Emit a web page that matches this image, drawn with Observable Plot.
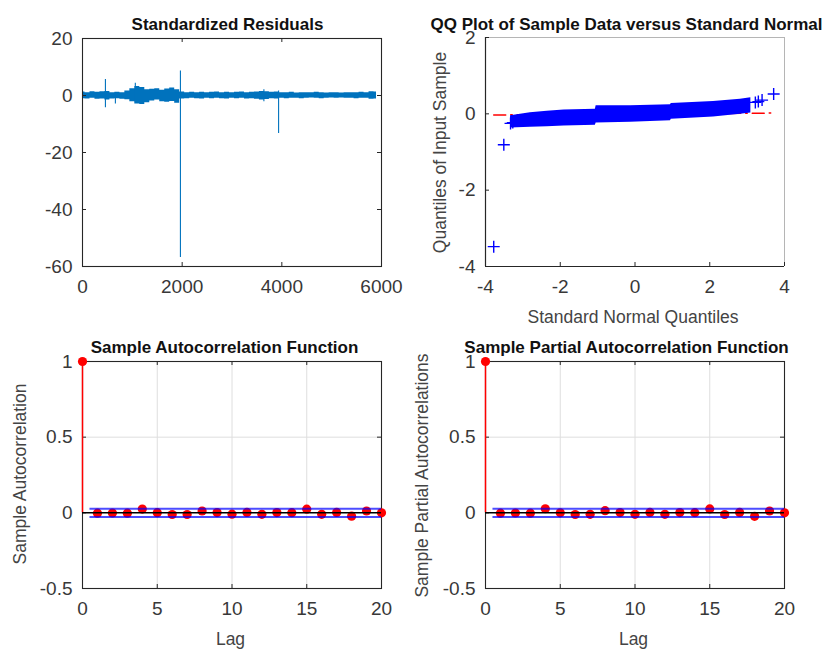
<!DOCTYPE html>
<html><head><meta charset="utf-8">
<script src="https://cdn.jsdelivr.net/npm/d3@7"></script>
<script src="https://cdn.jsdelivr.net/npm/@observablehq/plot@0.6"></script>
<style>
html,body{margin:0;padding:0;background:#fff;}
#root{position:relative;width:831px;height:649px;overflow:hidden;background:#fff;}
#root svg{position:absolute;}
</style></head><body><div id="root"></div>
<script>
const residIndex = [0,100,200,300,400,500,600,700,800,900,1000,1100,1200,1300,1400,1500,1600,1700,1800,1900,2000,2100,2200,2300,2400,2500,2600,2700,2800,2900,3000,3100,3200,3300,3400,3500,3600,3700,3800,3900,4000,4100,4200,4300,4400,4500,4600,4700,4800,4900,5000,5100,5200,5300,5400,5500,5600,5700,5800,5900];
const residLow  = [-1.1,-1.2,-1.0,-1.3,-1.2,-1.6,-1.2,-1.1,-1.3,-1.5,-2.2,-3.0,-3.2,-2.5,-1.9,-1.6,-2.2,-2.4,-2.1,-2.7,-1.2,-1.1,-1.0,-1.1,-1.2,-1.0,-1.1,-1.0,-1.1,-1.2,-1.0,-1.1,-1.0,-1.2,-1.1,-1.3,-1.6,-1.4,-1.1,-1.2,-1.0,-1.1,-1.0,-1.0,-1.1,-1.0,-0.9,-1.0,-1.1,-1.0,-0.9,-1.0,-0.9,-1.0,-1.0,-1.1,-1.0,-1.0,-1.3,-1.2];
const residHigh = [1.2,1.0,1.3,1.1,1.3,1.4,1.0,1.1,1.0,1.6,2.4,3.2,2.8,2.0,2.2,2.4,1.8,2.3,2.6,2.0,1.2,1.0,1.1,1.0,1.1,1.0,1.1,1.2,1.0,1.1,1.0,1.1,1.2,1.0,1.1,1.2,1.4,1.3,1.1,1.2,1.0,1.0,1.1,0.9,1.0,1.0,1.0,1.1,1.0,0.9,1.0,1.0,0.9,1.0,1.0,1.0,1.1,1.0,1.3,1.2];
const spikeIndex = [460, 660, 1060, 1965, 3640, 3935];
const spikeLow   = [-4.3, -3.0, -2.5, -56.8, -2.2, -13.3];
const spikeHigh  = [5.6, 1.0, 4.3, 8.6, 2.0, 1.6];
const residXTicks = [0, 2000, 4000, 6000];
const residYTicks = [-60, -40, -20, 0, 20];

// ---------- QQ plot
const qqBandX    = [-3.33, -2.8, -2.35, -1.9, -1.06, -1.04, -0.12, 0.95, 0.97, 2.1, 2.82, 3.1];
const qqBandLow  = [-0.37, -0.35, -0.34, -0.32, -0.30, -0.24, -0.22, -0.18, -0.14, -0.08, -0.01, 0.02];
const qqBandHigh = [-0.05, 0.03, 0.07, 0.10, 0.12, 0.21, 0.21, 0.24, 0.27, 0.32, 0.38, 0.42];
const qqTailX = [-3.78, -3.51, -3.33, -3.27, 3.22, 3.30, 3.40, 3.71];
const qqTailY = [-3.48, -0.81, -0.25, -0.23, 0.30, 0.32, 0.36, 0.52];
const qqRefX = [-3.78, 3.76];
const qqRefY = [-0.03, 0.02];
const qqXTicks = [-4, -2, 0, 2, 4];
const qqYTicks = [-4, -2, 0, 2];

// ---------- ACF / PACF
const lags = [0,1,2,3,4,5,6,7,8,9,10,11,12,13,14,15,16,17,18,19,20];
const acfValues  = [1, -0.002, -0.001, -0.002, 0.025, 0.001, -0.011, -0.011, 0.012, 0.002, -0.009, 0.003, -0.010, 0.002, 0.001, 0.024, -0.010, 0.003, -0.022, 0.012, 0.0];
const pacfValues = [1, -0.002, -0.001, -0.002, 0.027, 0.000, -0.011, -0.010, 0.014, 0.002, -0.010, 0.003, -0.010, 0.002, 0.001, 0.026, -0.011, 0.003, -0.023, 0.012, 0.0];
const confBound = [0.027];
const boundLagRange = [0.5, 20];
const lagTicks = [0, 5, 10, 15, 20];
const corrTicks = [-0.5, 0, 0.5, 1];
const lagGrid = [5, 10, 15];
const corrGrid = [0.5];

// ---------- helpers
const root = document.getElementById("root");
const FONT = "'Liberation Sans', Arial, Helvetica, sans-serif";
const AX = "#262626";
const style = {fontFamily: FONT, fontSize: "19px", color: "#383838", background: "transparent", overflow: "visible"};
const fmt = d => String(d);
const plusSymbol = {draw(ctx, size) { const r = Math.sqrt(size / Math.PI); ctx.moveTo(-r, 0); ctx.lineTo(r, 0); ctx.moveTo(0, -r); ctx.lineTo(0, r); }};

function inwardTicks(xt, yt, fw, fh, sides) {
  const L = 4, m = [];
  if (sides.includes("b")) m.push(Plot.ruleX(xt, {x: d => d, insetTop: fh - L, stroke: AX}));
  if (sides.includes("t")) m.push(Plot.ruleX(xt, {x: d => d, insetBottom: fh - L, stroke: AX}));
  if (sides.includes("l")) m.push(Plot.ruleY(yt, {y: d => d, insetRight: fw - L, stroke: AX}));
  if (sides.includes("r")) m.push(Plot.ruleY(yt, {y: d => d, insetLeft: fw - L, stroke: AX}));
  return m;
}
function title(t, dx, dy) {
  return Plot.text([t], {text: d => d, frameAnchor: "top", textAnchor: "middle", dx, dy, lineAnchor: "bottom", fontWeight: "bold", fontSize: 17, fill: "#111"});
}
function xLabel(t, dx, dy) {
  return Plot.text([t], {text: d => d, frameAnchor: "bottom", textAnchor: "middle", dx, dy, lineAnchor: "top", fontSize: 17.5, fill: "#444"});
}
function yLabel(t, dx, dy) {
  return Plot.text([t], {text: d => d, frameAnchor: "left", textAnchor: "middle", dx, dy, rotate: -90, lineAnchor: "middle", fontSize: 17.5, fill: "#444"});
}
function place(svg, left, top) { svg.style.left = left + "px"; svg.style.top = top + "px"; root.appendChild(svg); }

// ---------- Panel 1: residuals
{
  const W = 415, H = 320, mL = 82, mR = 34, mT = 38, mB = 54;
  const resid = residIndex.map((x, i) => ({x, lo: residLow[i], hi: residHigh[i]}));
  const spikes = spikeIndex.map((x, i) => ({x, lo: spikeLow[i], hi: spikeHigh[i]}));
  const svg = Plot.plot({
    width: W, height: H, marginLeft: mL, marginRight: mR, marginTop: mT, marginBottom: mB,
    style, x: {domain: [0, 6000]}, y: {domain: [-60, 20]},
    marks: [
      Plot.areaY(resid, {x: "x", y1: "lo", y2: "hi", curve: "step", fill: "#0072BD"}),
      Plot.ruleX(spikes, {x: "x", y1: "lo", y2: "hi", stroke: "#0072BD", strokeWidth: 1.1}),
      Plot.frame({stroke: AX, strokeWidth: 1.1}),
      ...inwardTicks(residXTicks, residYTicks, W - mL - mR, H - mT - mB, "btlr"),
      Plot.axisX({ticks: residXTicks, tickFormat: fmt, tickSize: 0, tickPadding: 13, label: null}),
      Plot.axisY({ticks: residYTicks, tickFormat: fmt, tickSize: 0, tickPadding: 10, label: null}),
      title("Standardized Residuals", -4.5, -8.5)
    ]
  });
  place(svg, 0, 0);
}

// ---------- Panel 2: QQ plot
{
  const W = 416, H = 330, mL = 70, mR = 47, mT = 37, mB = 64;
  const band = qqBandX.map((x, i) => ({x, lo: qqBandLow[i], hi: qqBandHigh[i]}));
  const tails = qqTailX.map((x, i) => ({x, y: qqTailY[i]}));
  const ref = qqRefX.map((x, i) => ({x, y: qqRefY[i]}));
  const svg = Plot.plot({
    width: W, height: H, marginLeft: mL, marginRight: mR, marginTop: mT, marginBottom: mB,
    style, x: {domain: [-4, 4]}, y: {domain: [-4, 2]},
    marks: [
      Plot.ruleY([2], {stroke: "#b5b5b5"}),
      Plot.ruleX([4], {stroke: "#b5b5b5"}),
      Plot.line(ref, {x: "x", y: "y", stroke: "#ff0000", strokeWidth: 1.5, strokeDasharray: "12,5,1.5,5"}),
      Plot.areaY(band, {x: "x", y1: "lo", y2: "hi", fill: "#0000ff"}),
      Plot.dot(tails, {x: "x", y: "y", symbol: plusSymbol, r: 6, stroke: "#0000ff", fill: "none", strokeWidth: 1.4}),
      Plot.ruleX([-4], {stroke: AX, strokeWidth: 1.2}),
      Plot.ruleY([-4], {stroke: AX, strokeWidth: 1.2}),
      ...inwardTicks(qqXTicks, qqYTicks, W - mL - mR, H - mT - mB, "bl"),
      Plot.axisX({ticks: qqXTicks, tickFormat: fmt, tickSize: 0, tickPadding: 13, label: null}),
      Plot.axisY({ticks: qqYTicks, tickFormat: fmt, tickSize: 0, tickPadding: 10, label: null}),
      title("QQ Plot of Sample Data versus Standard Normal", -8.5, -8),
      xLabel("Standard Normal Quantiles", -2, 44),
      yLabel("Quantiles of Input Sample", -45, 0.5)
    ]
  });
  place(svg, 415, 0);
}

// ---------- Panels 3 & 4: ACF / PACF
function corrPanel(values, ttl, yl, W, mL, mR, left, tdx, ylx, yly) {
  const H = 319, mT = 31, mB = 61;
  const data = lags.map((lag, i) => ({lag, v: values[i]}));
  const bounds = [confBound[0], -confBound[0]];
  const svg = Plot.plot({
    width: W, height: H, marginLeft: mL, marginRight: mR, marginTop: mT, marginBottom: mB,
    style, x: {domain: [0, 20]}, y: {domain: [-0.5, 1]},
    marks: [
      Plot.ruleX(lagGrid, {x: d => d, stroke: "#dedede"}),
      Plot.ruleY(corrGrid, {y: d => d, stroke: "#dedede"}),
      Plot.frame({stroke: AX, strokeWidth: 1.1}),
      ...inwardTicks(lagTicks, corrTicks, W - mL - mR, H - mT - mB, "btlr"),
      Plot.ruleX(data, {x: "lag", y1: 0, y2: "v", stroke: "#ff0000", strokeWidth: 1.5}),
      Plot.dot(data, {x: "lag", y: "v", r: 4.6, fill: "#ff0000"}),
      Plot.ruleY([0], {stroke: "#000", strokeWidth: 1.5}),
      Plot.ruleY(bounds, {y: d => d, x1: boundLagRange[0], x2: boundLagRange[1], stroke: "#0000ff", strokeWidth: 2, strokeOpacity: 0.7}),
      Plot.axisX({ticks: lagTicks, tickFormat: fmt, tickSize: 0, tickPadding: 13, label: null}),
      Plot.axisY({ticks: corrTicks, tickFormat: fmt, tickSize: 0, tickPadding: 10, label: null}),
      title(ttl, tdx, -9),
      xLabel("Lag", -1.5, 44),
      yLabel(yl, ylx, yly)
    ]
  });
  place(svg, left, 330);
}
corrPanel(acfValues, "Sample Autocorrelation Function", "Sample Autocorrelation", 415, 82, 34, 0, -7.5, -62.5, -1);
corrPanel(pacfValues, "Sample Partial Autocorrelation Function", "Sample Partial Autocorrelations", 416, 70, 47, 415, -8.5, -63, 0.5);
</script></body></html>
